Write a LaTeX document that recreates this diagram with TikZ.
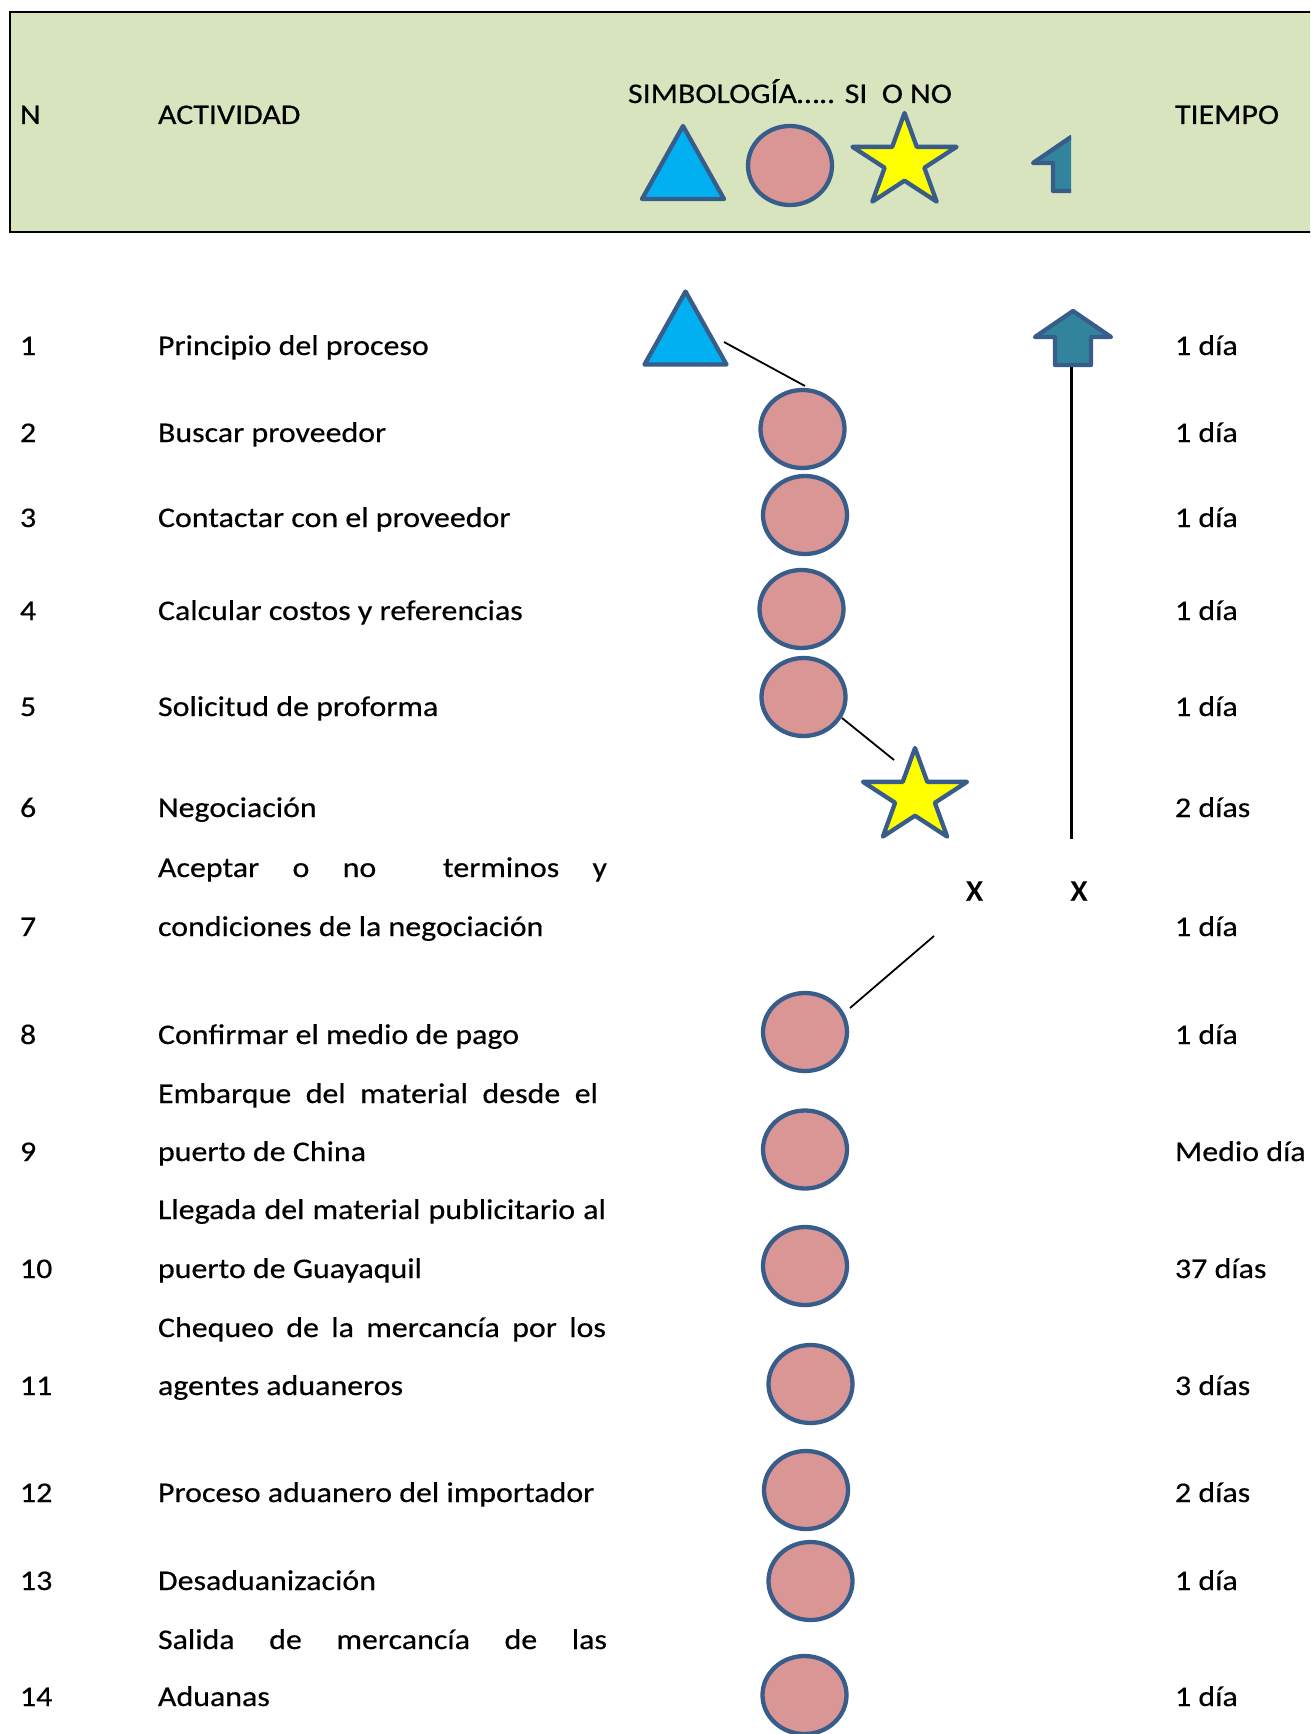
\documentclass[tikz,border=0pt]{standalone}
\usepackage{fontspec}
\setmainfont{Carlito}[FakeStretch=1.12, FakeBold=0.4]
\newfontfamily\markfont{Carlito}[FakeBold=0.4]
\usetikzlibrary{shapes.geometric,calc}

\definecolor{headbg}{HTML}{D7E4BD}
\definecolor{symedge}{HTML}{385D8A}
\definecolor{opfill}{HTML}{D99694}
\definecolor{trifill}{HTML}{00B0F0}
\definecolor{starfill}{HTML}{FFFF00}
\definecolor{arrowfill}{HTML}{31849B}

\tikzset{
  symline/.style={draw=symedge, line width=4.3pt, line join=round},
  txt/.style={font=\fontsize{28.5}{34}\selectfont, inner sep=0pt, outer sep=0pt, anchor=base west},
  mark x/.style={font=\markfont\fontsize{40.5}{44}\selectfont, inner sep=0pt, anchor=center},
  opcircle/.style={symline, fill=opfill, ellipse, minimum width=84pt, minimum height=78pt, inner sep=0pt, outer sep=0pt},
  link/.style={draw=black, line width=1.8pt},
  flowline/.style={draw=black, line width=3pt},
  pics/startsym/.style={code={
    \draw[symline, fill=trifill] (0,-37) -- (41,36) -- (-41,36) -- cycle;}},
  pics/decisionsym/.style={code={
    \draw[symline, fill=starfill, xscale=1.117]
      (0,-49) \foreach \k in {1,...,9}{ -- ({\k*36-90}:{mod(\k,2)==0 ? 49 : 18.7}) } -- cycle;}},
  pics/returnsym/.style={code={
    \draw[symline, fill=arrowfill] (0,-26) -- (38,0) -- (18,0) -- (18,28)
      -- (-18,28) -- (-18,0) -- (-38,0) -- cycle;}},
}

\begin{document}
\begin{tikzpicture}[x=1pt, y=-1pt]
\useasboundingbox (0,0) rectangle (1310,1734);
\fill[white] (0,0) rectangle (1310,1734);
\clip (0,0) rectangle (1310,1734);

% header band
\draw[fill=headbg, line width=2pt] (10,12) rectangle (1330,232);
\node[txt] (hN) at (20,124) {N};
\node[txt] (hAct) at (158,124) {ACTIVIDAD};
\node[txt] (hSym) at (628,103) {SIMBOLOGÍA….. SI\ \ O NO};
\node[txt] (hTime) at (1175,124) {TIEMPO};

% legend symbols
\pic at (683,163) {startsym};
\node[opcircle, minimum height=79pt] (legop) at (790,165.5) {};
\pic at (904.5,162) {decisionsym};
\begin{scope}
  \clip (1000,100) rectangle (1071,210);
  \pic at (1071,163) {returnsym};
\end{scope}

% activity numbers, names and times
\foreach \n/\y in {1/355, 2/442, 3/527, 4/620, 5/716, 6/817, 7/936, 8/1044,
                   9/1161, 10/1278, 11/1395, 12/1502, 13/1590, 14/1706}
  \node[txt] (num\n) at (20,\y) {\n};

\node[txt] (act1) at (158,355) {Principio del proceso};
\node[txt] (act2) at (158,442) {Buscar proveedor};
\node[txt] (act3) at (158,527) {Contactar con el proveedor};
\node[txt] (act4) at (158,620) {Calcular costos y referencias};
\node[txt] (act5) at (158,716) {Solicitud de proforma};
\node[txt] (act6) at (158,817) {Negociación};
\node[txt] (act7a) at (158,877) {\makebox[449pt][s]{Aceptar o no\ \ terminos y}};
\node[txt] (act7b) at (158,936) {condiciones de la negociación};
\node[txt] (act8) at (158,1044) {Confirmar el medio de pago};
\node[txt] (act9a) at (158,1103) {\makebox[440pt][s]{Embarque del material desde el}};
\node[txt] (act9b) at (158,1161) {puerto de China};
\node[txt] (act10a) at (158,1219) {\makebox[448pt][s]{Llegada del material publicitario al}};
\node[txt] (act10b) at (158,1278) {puerto de Guayaquil};
\node[txt] (act11a) at (158,1337) {\makebox[448pt][s]{Chequeo de la mercancía por los}};
\node[txt] (act11b) at (158,1395) {agentes aduaneros};
\node[txt] (act12) at (158,1502) {Proceso aduanero del importador};
\node[txt] (act13) at (158,1590) {Desaduanización};
\node[txt] (act14a) at (158,1649) {\makebox[449pt][s]{Salida de mercancía de las}};
\node[txt] (act14b) at (158,1706) {Aduanas};

\foreach \n/\y/\t in {1/355/1 día, 2/442/1 día, 3/527/1 día, 4/620/1 día, 5/716/1 día,
                      6/817/2 días, 7/936/1 día, 8/1044/1 día, 9/1161/Medio día,
                      10/1278/37 días, 11/1395/3 días, 12/1502/2 días, 13/1590/1 día,
                      14/1706/1 día}
  \node[txt] (time\n) at (1175,\y) {\t};

% flow symbols
\coordinate (s1) at (685.5,328.5);
\pic at (s1) {startsym};
\node[opcircle] (c2) at (802.5,429) {};
\node[opcircle] (c3) at (805,515) {};
\node[opcircle] (c4) at (801.5,609) {};
\node[opcircle] (c5) at (803.5,697) {};
\coordinate (d6) at (915,797);
\pic at (d6) {decisionsym};
\node[mark x] (yes7) at (974.5,891) {x};
\node[mark x] (no7) at (1079,891) {x};
\node[opcircle] (c8) at (805,1032) {};
\node[opcircle] (c9) at (805,1149.5) {};
\node[opcircle] (c10) at (805,1266) {};
\node[opcircle] (c11) at (810.5,1384) {};
\node[opcircle] (c12) at (806,1490) {};
\node[opcircle] (c13) at (810.5,1581) {};
\node[opcircle] (c14) at (804.5,1695) {};
\coordinate (r1) at (1073,337);

% connectors
\coordinate (j1) at (724,342);
\coordinate (j2) at (805,386);
\coordinate (j3) at (842,718);
\coordinate (j4) at (894,760);
\coordinate (j5) at (934,936);
\coordinate (j6) at (850,1008);
\coordinate (j7) at (1071,365);
\coordinate (j8) at (1071,839);
\draw[link] (j1) -- (j2);
\draw[link] (j3) -- (j4);
\draw[link] (j5) -- (j6);
\draw[flowline] (j8) -- (j7);
\pic at (r1) {returnsym};
\end{tikzpicture}
\end{document}
